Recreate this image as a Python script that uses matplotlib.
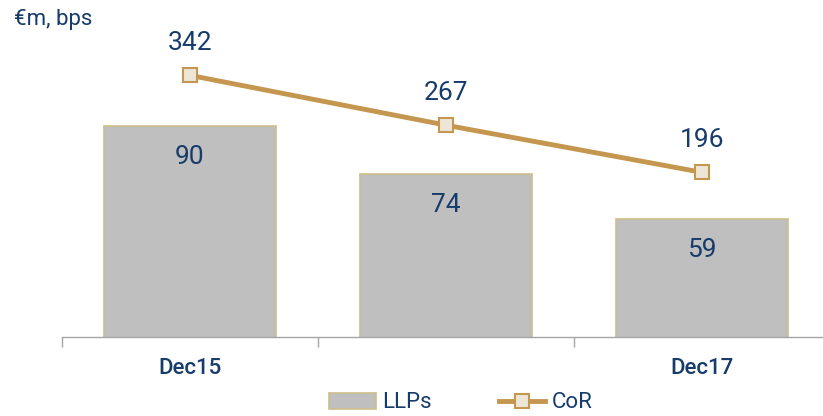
import matplotlib
matplotlib.use("Agg")
import matplotlib.pyplot as plt
from matplotlib import font_manager
from matplotlib.lines import Line2D
from matplotlib.patches import Patch

categories = ["Dec15", "", "Dec17"]
llps = [90, 74, 59]
cor = [342, 267, 196]
series_names = ["LLPs", "CoR"]
unit_label = "€m, bps"

avail = {f.name for f in font_manager.fontManager.ttflist}
FONT = "Roboto" if "Roboto" in avail else "DejaVu Sans"
plt.rcParams["font.family"] = [FONT, "DejaVu Sans"]

NAVY = "#173C6B"
BAR_FACE = "#BFBFBF"
BAR_EDGE = "#CDBE8A"
LINE_C = "#C4964F"
MARK_FACE = "#EDE6D7"

W, H = 823, 416
fig = plt.figure(figsize=(W / 100, H / 100), dpi=100)
ax_left, ax_right = 62, 830
ax_top, ax_bot = 0, 337
ax = fig.add_axes([ax_left / W, 1 - ax_bot / H, (ax_right - ax_left) / W, (ax_bot - ax_top) / H])
ax2 = ax.twinx()

x = list(range(len(categories)))
ax.bar(x, llps, width=0.67, color=BAR_FACE, edgecolor=BAR_EDGE, linewidth=1.2, zorder=2)
ax.set_xlim(-0.5, 2.5)
ax.set_ylim(19.67, 132)

ax2.plot(x, cor, color=LINE_C, linewidth=3.5, marker="s", markersize=10,
         markerfacecolor=MARK_FACE, markeredgecolor=LINE_C, markeredgewidth=1.5, zorder=3)
ax2.set_ylim(-51.8, 455.4)

for xi, v in zip(x, llps):
    ax.text(xi, v - 6.3, str(v), ha="center", va="top", fontsize=19, color=NAVY)
for xi, v in zip(x, cor):
    ax2.annotate(str(v), (xi, v), xytext=(0, 23.5), textcoords="offset points",
                 ha="center", va="center", fontsize=19, color=NAVY)

for a in (ax, ax2):
    for s in ("top", "right", "left"):
        a.spines[s].set_visible(False)
    a.set_yticks([])
ax2.spines["bottom"].set_visible(False)
ax.spines["bottom"].set_color("#A6A6A6")
ax.spines["bottom"].set_linewidth(1.0)

ax.set_xticks(x)
ax.set_xticklabels(categories, fontsize=16, color=NAVY, fontweight="medium")
ax.tick_params(axis="x", which="major", length=0, pad=15)
ax.set_xticks([-0.5, 0.5, 1.5, 2.5], minor=True)
ax.tick_params(axis="x", which="minor", length=7, width=1.0, color="#A6A6A6")

fig.text(14 / W, 1 - 19 / H, unit_label, fontsize=16, color=NAVY, ha="left", va="center")

handles = [Patch(facecolor=BAR_FACE, edgecolor=BAR_EDGE, linewidth=1.2),
           Line2D([0], [0], color=LINE_C, linewidth=3.5, marker="s", markersize=10,
                  markerfacecolor=MARK_FACE, markeredgecolor=LINE_C, markeredgewidth=1.5)]
leg = fig.legend(handles, series_names, loc="center", bbox_to_anchor=(461 / W, 1 - 403 / H),
                 ncol=2, frameon=False, fontsize=16, handlelength=2.1, handleheight=0.75,
                 handletextpad=0.3, columnspacing=3.0, borderpad=0)
for t in leg.get_texts():
    t.set_color(NAVY)

fig.savefig("out.png", dpi=100)
